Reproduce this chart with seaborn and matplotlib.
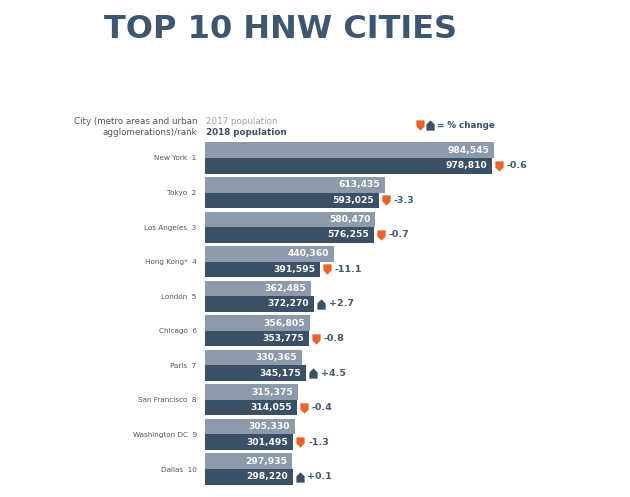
import matplotlib
matplotlib.use("Agg")
import matplotlib.pyplot as plt
import seaborn as sns
import pandas as pd
import numpy as np
from matplotlib.path import Path
from matplotlib.transforms import ScaledTranslation

cities = ["New York", "Tokyo", "Los Angeles", "Hong Kong*", "London", "Chicago",
          "Paris", "San Francisco", "Washington DC", "Dallas"]
ranks = [1, 2, 3, 4, 5, 6, 7, 8, 9, 10]
pop_2017 = [984545, 613435, 580470, 440360, 362485, 356805, 330365, 315375, 305330, 297935]
pop_2018 = [978810, 593025, 576255, 391595, 372270, 353775, 345175, 314055, 301495, 298220]
pct_change = [-0.6, -3.3, -0.7, -11.1, 2.7, -0.8, 4.5, -0.4, -1.3, 0.1]
years = ["2017 population", "2018 population"]

C17 = "#8c9aab"
C18 = "#3b4f66"
ORANGE = "#e8622a"
TITLE_C = "#3e566f"
GREY_TXT = "#555555"

df = pd.DataFrame({
    "city": cities * 2,
    "year": [years[0]] * len(cities) + [years[1]] * len(cities),
    "value": pop_2017 + pop_2018,
})

sns.set_style("white")
plt.rcParams["font.family"] = ["DejaVu Sans"]

W, H = 630, 497
fig = plt.figure(figsize=(W / 100, H / 100), dpi=100)
fig.patch.set_facecolor("white")

ax_left, ax_right = 205, 620
ax_top, ax_bot = 140.7, 486.3
ax = fig.add_axes([ax_left / W, (H - ax_bot) / H, (ax_right - ax_left) / W, (ax_bot - ax_top) / H])

sns.barplot(data=df, y="city", x="value", hue="year", hue_order=years, order=cities,
            orient="h", palette=[C17, C18], width=0.9, saturation=1, legend=False,
            ax=ax, edgecolor="none")

xmax = 984545 * (ax_right - ax_left) / (494 - ax_left)
ax.set_xlim(0, xmax)
ax.set_ylim(9.5, -0.5)
for s in ax.spines.values():
    s.set_visible(False)
ax.set_xticks([])
ax.set_xlabel("")
ax.set_ylabel("")
ax.set_yticks(range(len(cities)))
ax.set_yticklabels([f"{c}  {r}" for c, r in zip(cities, ranks)], fontsize=5.2, color=GREY_TXT)
ax.tick_params(axis="y", length=0, pad=6)

off = 0.225
for i in range(len(cities)):
    ax.annotate(f"{pop_2017[i]:,}", xy=(pop_2017[i], i - off), xytext=(-3.5, 0),
                textcoords="offset points", ha="right", va="center",
                color="white", fontsize=6.6, fontweight="bold")
    ax.annotate(f"{pop_2018[i]:,}", xy=(pop_2018[i], i + off), xytext=(-3.5, 0),
                textcoords="offset points", ha="right", va="center",
                color="white", fontsize=6.6, fontweight="bold")

# arrow markers
up_verts = [(-0.8, -1), (0.8, -1), (0.8, 0.2), (0, 1), (-0.8, 0.2), (-0.8, -1)]
up_codes = [Path.MOVETO] + [Path.LINETO] * 4 + [Path.CLOSEPOLY]
up_marker = Path(up_verts, up_codes)
down_marker = Path([(x, -y) for x, y in up_verts], up_codes)

for i in range(len(cities)):
    neg = pct_change[i] < 0
    tr = ax.transData + ScaledTranslation(7 / 100, 0, fig.dpi_scale_trans)
    ax.scatter([pop_2018[i]], [i + off], marker=down_marker if neg else up_marker,
               s=55, color=ORANGE if neg else C18, transform=tr, clip_on=False,
               linewidths=0, zorder=5)
    lab = f"{pct_change[i]:+.1f}" if not neg else f"{pct_change[i]:.1f}"
    ax.annotate(lab, xy=(pop_2018[i], i + off), xytext=(10.5, 0),
                textcoords="offset points", ha="left", va="center",
                color="#44576d", fontsize=6.8, fontweight="bold", annotation_clip=False)

# title
fig.text(104 / W, 1 - 30 / H, "TOP 10 HNW CITIES", fontsize=23, fontweight="semibold",
         color=TITLE_C, ha="left", va="center")

# header
fig.text(197 / W, 1 - 122 / H, "City (metro areas and urban", fontsize=6.3,
         color=GREY_TXT, ha="right", va="center")
fig.text(197 / W, 1 - 132.5 / H, "agglomerations)/rank", fontsize=6.3,
         color=GREY_TXT, ha="right", va="center")
fig.text(206 / W, 1 - 122 / H, "2017 population", fontsize=6.3,
         color="#9aa6b3", ha="left", va="center")
fig.text(206 / W, 1 - 132.5 / H, "2018 population", fontsize=6.3, fontweight="bold",
         color=C18, ha="left", va="center")

# legend
lax = fig.add_axes([0, 0, 1, 1], facecolor="none")
lax.set_xlim(0, W)
lax.set_ylim(H, 0)
lax.axis("off")
lax.scatter([420], [125], marker=down_marker, s=55, color=ORANGE, linewidths=0)
lax.scatter([430], [125], marker=up_marker, s=55, color=C18, linewidths=0)
lax.text(437, 125, "= % change", fontsize=6.3, fontweight="bold", color=C18,
         ha="left", va="center")

fig.savefig("out.png", dpi=100, facecolor="white")
